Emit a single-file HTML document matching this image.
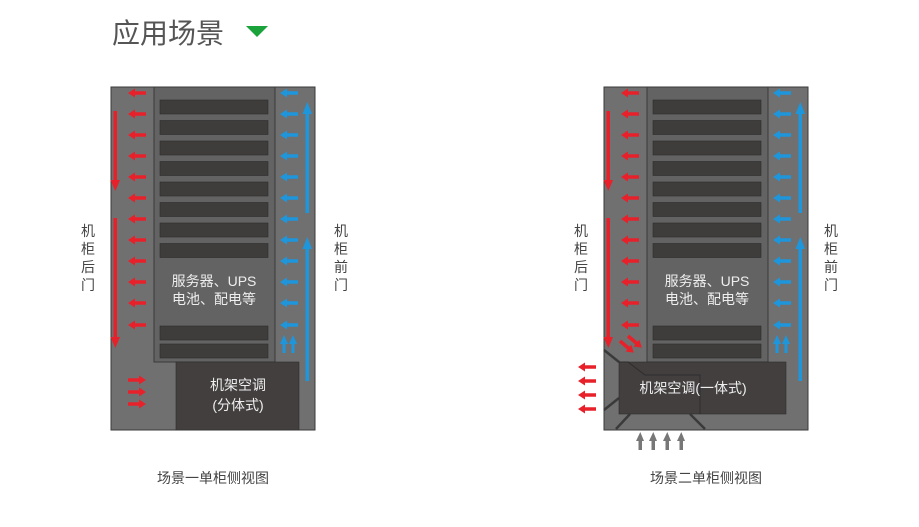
<!DOCTYPE html>
<html><head><meta charset="utf-8"><style>
html,body{margin:0;padding:0;background:#fff;}
svg{display:block;}
text{font-family:"Liberation Sans","Noto Sans CJK SC",sans-serif;}
</style></head><body>
<svg width="919" height="527" viewBox="0 0 919 527" xmlns="http://www.w3.org/2000/svg">
<defs>
<g id="la"><path d="M0,0 L7,-4.5 L7,-1.8 L18,-1.8 L18,1.8 L7,1.8 L7,4.5 Z"/></g>
<g id="ra"><path d="M18,0 L11,-4.5 L11,-1.8 L0,-1.8 L0,1.8 L11,1.8 L11,4.5 Z"/></g>
<g id="slots">
<rect x="160" y="100" width="108" height="14"/>
<rect x="160" y="120.5" width="108" height="14"/>
<rect x="160" y="141" width="108" height="14"/>
<rect x="160" y="161.5" width="108" height="14"/>
<rect x="160" y="182" width="108" height="14"/>
<rect x="160" y="202.5" width="108" height="14"/>
<rect x="160" y="223" width="108" height="14"/>
<rect x="160" y="243.5" width="108" height="14"/>
<rect x="160" y="326" width="108" height="14"/>
<rect x="160" y="344" width="108" height="14"/>
</g>
<g id="redl" fill="#e8202a">
<use href="#la" x="128" y="93"/><use href="#la" x="128" y="114"/><use href="#la" x="128" y="135"/><use href="#la" x="128" y="156"/><use href="#la" x="128" y="177"/><use href="#la" x="128" y="198"/><use href="#la" x="128" y="219"/><use href="#la" x="128" y="240"/><use href="#la" x="128" y="261"/><use href="#la" x="128" y="282"/><use href="#la" x="128" y="303"/><use href="#la" x="128" y="325"/>
<rect x="113.5" y="111" width="3.5" height="70"/><path d="M110.5,180 L120,180 L115.3,191 Z"/>
<rect x="113.5" y="218" width="3.5" height="120"/><path d="M110.5,337 L120,337 L115.3,348 Z"/>
</g>
<g id="blue" fill="#1e96dc">
<use href="#la" x="280" y="93"/><use href="#la" x="280" y="114"/><use href="#la" x="280" y="135"/><use href="#la" x="280" y="156"/><use href="#la" x="280" y="177"/><use href="#la" x="280" y="198"/><use href="#la" x="280" y="219"/><use href="#la" x="280" y="240"/><use href="#la" x="280" y="261"/><use href="#la" x="280" y="282"/><use href="#la" x="280" y="303"/><use href="#la" x="280" y="325"/>
<rect x="305.5" y="112" width="3.5" height="101"/><path d="M302.5,114 L312,114 L307.3,102 Z"/>
<rect x="305.5" y="247" width="3.5" height="134"/><path d="M302.5,249 L312,249 L307.3,237 Z"/>
<rect x="282.5" y="342" width="3" height="11"/><path d="M280,344 L288,344 L284,335 Z"/>
<rect x="291.5" y="342" width="3" height="11"/><path d="M289,344 L297,344 L293,335 Z"/>
</g>
</defs>

<text x="112" y="43" font-size="28" fill="#555">应用场景</text>
<path d="M246,26 L268,26 L257,37 Z" fill="#1aa33a"/>

<!-- Scene 1 -->
<rect x="111" y="87" width="204" height="343" fill="#707070" stroke="#3a3a3a" stroke-width="1"/>
<rect x="154" y="87" width="121" height="275" fill="#636363" stroke="#3a3a3a" stroke-width="1"/>
<g fill="#3f3c3c" stroke="#2e2c2c" stroke-width="0.6"><use href="#slots"/></g>
<text x="214" y="286" font-size="14" fill="#eee" text-anchor="middle">服务器、UPS</text>
<text x="214" y="304" font-size="14" fill="#eee" text-anchor="middle">电池、配电等</text>
<rect x="176" y="362" width="123" height="68" fill="#433f3f" stroke="#2e2c2c" stroke-width="0.6"/>
<text x="238" y="390" font-size="14" fill="#eee" text-anchor="middle">机架空调</text>
<text x="238" y="410" font-size="14" fill="#eee" text-anchor="middle">(分体式)</text>
<use href="#redl"/><use href="#blue"/>
<g fill="#e8202a"><use href="#ra" x="128" y="380"/><use href="#ra" x="128" y="392"/><use href="#ra" x="128" y="404"/></g>
<g font-size="14" fill="#444" text-anchor="middle">
<text x="88" y="236">机</text><text x="88" y="254">柜</text><text x="88" y="272">后</text><text x="88" y="290">门</text>
<text x="341" y="236">机</text><text x="341" y="254">柜</text><text x="341" y="272">前</text><text x="341" y="290">门</text>
<text x="581" y="236">机</text><text x="581" y="254">柜</text><text x="581" y="272">后</text><text x="581" y="290">门</text>
<text x="831" y="236">机</text><text x="831" y="254">柜</text><text x="831" y="272">前</text><text x="831" y="290">门</text>
</g>
<text x="213" y="483" font-size="14" fill="#444" text-anchor="middle">场景一单柜侧视图</text>

<!-- Scene 2 -->
<g transform="translate(493,0)">
<rect x="111" y="87" width="204" height="343" fill="#707070" stroke="#3a3a3a" stroke-width="1"/>
<rect x="154" y="87" width="121" height="275" fill="#636363" stroke="#3a3a3a" stroke-width="1"/>
<g fill="#3f3c3c" stroke="#2e2c2c" stroke-width="0.6"><use href="#slots"/></g>
<text x="214" y="286" font-size="14" fill="#eee" text-anchor="middle">服务器、UPS</text>
<text x="214" y="304" font-size="14" fill="#eee" text-anchor="middle">电池、配电等</text>
<g stroke="#3a3a3a" stroke-width="2.5">
<line x1="111" y1="350" x2="126" y2="362"/><line x1="111" y1="410" x2="126" y2="398"/>
<line x1="123" y1="429" x2="137" y2="414"/><line x1="197" y1="414" x2="212" y2="429"/>
</g>
<rect x="126" y="362" width="167" height="52" fill="#433f3f" stroke="#2e2c2c" stroke-width="0.6"/>
<path d="M126,362 L135,362 L152,375 L207,375 L207,414" fill="none" stroke="#2e2c2c" stroke-width="1"/>
<text x="200" y="393" font-size="14" fill="#eee" text-anchor="middle">机架空调(一体式)</text>
<g fill="#e8202a">
<use href="#la" x="128" y="93"/><use href="#la" x="128" y="114"/><use href="#la" x="128" y="135"/><use href="#la" x="128" y="156"/><use href="#la" x="128" y="177"/><use href="#la" x="128" y="198"/><use href="#la" x="128" y="219"/><use href="#la" x="128" y="240"/><use href="#la" x="128" y="261"/><use href="#la" x="128" y="282"/><use href="#la" x="128" y="303"/><use href="#la" x="128" y="325"/>
<rect x="113.5" y="111" width="3.5" height="70"/><path d="M110.5,180 L120,180 L115.3,191 Z"/>
<rect x="113.5" y="218" width="3.5" height="120"/><path d="M110.5,337 L120,337 L115.3,348 Z"/>
<use href="#ra" transform="translate(127,341) rotate(40)"/>
<use href="#ra" transform="translate(135,336) rotate(40)"/>
<use href="#la" x="85" y="367"/><use href="#la" x="85" y="381"/><use href="#la" x="85" y="395"/><use href="#la" x="85" y="409"/>
</g>
<use href="#blue"/>
<g fill="#777">
<rect x="145.5" y="439" width="3.5" height="11"/><path d="M143,441 L151,441 L147.3,432 Z"/>
<rect x="158.5" y="439" width="3.5" height="11"/><path d="M156,441 L164,441 L160.3,432 Z"/>
<rect x="172.5" y="439" width="3.5" height="11"/><path d="M170,441 L178,441 L174.3,432 Z"/>
<rect x="186.5" y="439" width="3.5" height="11"/><path d="M184,441 L192,441 L188.3,432 Z"/>
</g>
<text x="213" y="483" font-size="14" fill="#444" text-anchor="middle">场景二单柜侧视图</text>
</g>
</svg>
</body></html>
